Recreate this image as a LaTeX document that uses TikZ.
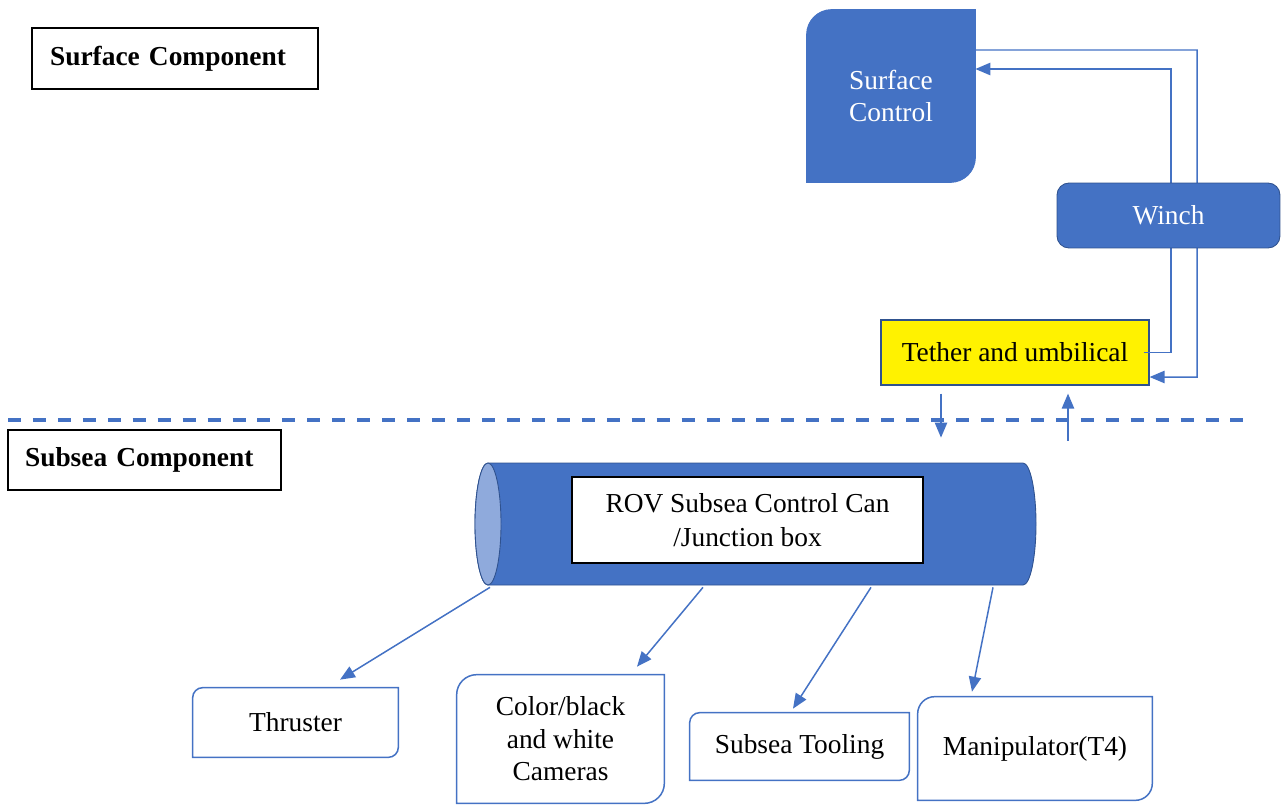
\documentclass[tikz,border=0pt]{standalone}
\usepackage{fontspec}
\setmainfont{Liberation Serif}
\usetikzlibrary{arrows.meta,calc,backgrounds}
\definecolor{mblue}{RGB}{68,114,196}
\definecolor{lblue}{RGB}{143,170,220}
\definecolor{dblue}{RGB}{47,82,143}
% box with rounded top-left and bottom-right corners: #1 style, #2 node, #3 radius
\newcommand{\tlbrshape}[3]{%
  \path[#1] (#2.south west) -- ($(#2.north west)+(0,-#3)$)
    arc[start angle=180,end angle=90,radius=#3] -- (#2.north east)
    -- ($(#2.south east)+(0,#3)$)
    arc[start angle=0,end angle=-90,radius=#3] -- cycle;}
\begin{document}
\begin{tikzpicture}[x=0.02cm,y=0.02cm,
  txt/.style={font=\fontsize{15.6}{18.5}\selectfont, align=center, inner sep=0pt},
  lbl/.style={draw=black, line width=0.9pt, font=\fontsize{15.6}{18.5}\selectfont\bfseries,
    align=left, inner ysep=0pt},
  ln/.style={draw=mblue, line width=0.85pt},
  arr/.style={ln, -{Triangle[length=8.5pt,width=7pt]}},
  bbox/.style={draw=mblue, fill=white, line width=0.85pt},
  bluebox/.style={draw=mblue, fill=mblue, line width=0.6pt},
]
\useasboundingbox (0,0) rectangle (1282,-805);

% section labels
\node[lbl, text width=5.0cm, inner xsep=0.36cm, minimum height=1.22cm] (surflbl) at (175,-58.5) {Surface Component};
\node[lbl, text width=4.78cm, inner xsep=0.34cm, minimum height=1.2cm] (sublbl) at (144.5,-460) {Subsea Component};

% surface control
\node[txt, text=white, minimum width=3.36cm, minimum height=3.44cm] (sc) at (891,-96) {Surface\\Control};
\begin{pgfonlayer}{background}
  \tlbrshape{bluebox}{sc}{25}
\end{pgfonlayer}

% tether
\node[txt, fill=yellow, draw=dblue, line width=0.7pt, minimum width=5.36cm, minimum height=1.3cm] (teth) at (1015,-352.5) {Tether and umbilical};

% loop lines (behind winch)
\draw[arr] ($(sc.east)+(0,46)$) -- (1197,-50) -- (1197,-377) -- ($(teth.east)+(0,-24.5)$);
\draw[arr] ($(teth.east)+(-6,0)$) -- (1171,-352.5) -- (1171,-69) -- ($(sc.east)+(0,27)$);

% winch
\node[txt, text=white, fill=mblue, draw=dblue, line width=0.5pt, rounded corners=0.24cm,
  minimum width=4.46cm, minimum height=1.3cm] (winch) at (1168.5,-215.5) {Winch};

% dashed separator
\coordinate (dl1) at (8,-420);
\coordinate (dl2) at (1243,-420);
\draw[draw=mblue, line width=2.3pt, dash pattern=on 7.4pt off 6.8pt] (dl1) -- (dl2);

% up / down arrows
\draw[arr] ($(teth.south)+(-74,-8)$) -- ($(teth.south)+(-74,-52)$);
\draw[arr] ($(teth.south)+(53,-55)$) -- ($(teth.south)+(53,-8)$);

% cylinder (control can)
\node[minimum width=11.22cm, minimum height=2.44cm, inner sep=0pt] (can) at (755.5,-524) {};
\begin{pgfonlayer}{background}
  \filldraw[fill=mblue, draw=dblue, line width=0.5pt] (488,-463) -- (1023,-463)
    arc[start angle=90,end angle=-90,x radius=13,y radius=61] -- (488,-585)
    arc[start angle=270,end angle=90,x radius=13,y radius=61] -- cycle;
  \filldraw[fill=lblue, draw=dblue, line width=0.5pt] (488,-524) ellipse[x radius=13, y radius=61];
\end{pgfonlayer}
\node[txt, font=\fontsize{15.6}{19.3}\selectfont, fill=white, draw=black, line width=0.9pt,
  minimum width=7.02cm, minimum height=1.72cm] (rov) at (747.5,-520) {ROV Subsea Control Can\\/Junction box};

% bottom boxes
\node[txt, minimum width=4.1cm, minimum height=1.38cm] (thr) at (295.5,-722.5) {Thruster};
\node[txt, minimum width=4.14cm, minimum height=2.56cm] (cam) at (560.5,-739) {Color/black\\and white\\Cameras};
\node[txt, minimum width=4.38cm, minimum height=1.34cm] (tool) at (799.5,-746.5) {Subsea Tooling};
\node[txt, minimum width=4.68cm, minimum height=2.06cm] (man) at (1035,-748.5) {Manipulator(T4)};
\begin{pgfonlayer}{background}
  \tlbrshape{bbox}{thr}{10}
  \tlbrshape{bbox}{cam}{20}
  \tlbrshape{bbox}{tool}{10}
  \tlbrshape{bbox}{man}{17}
\end{pgfonlayer}

% arrows from can
\draw[arr] ($(can.south)+(-265.5,-2)$) -- ($(thr.north)+(44.5,8)$);
\draw[arr] ($(can.south)+(-52.5,-2)$) -- ($(cam.north)+(76.5,8)$);
\draw[arr] ($(can.south)+(115.5,-2)$) -- ($(tool.north)+(-6.5,4)$);
\draw[arr] ($(can.south)+(237.5,-2)$) -- ($(man.north)+(-63,5)$);
\end{tikzpicture}
\end{document}
